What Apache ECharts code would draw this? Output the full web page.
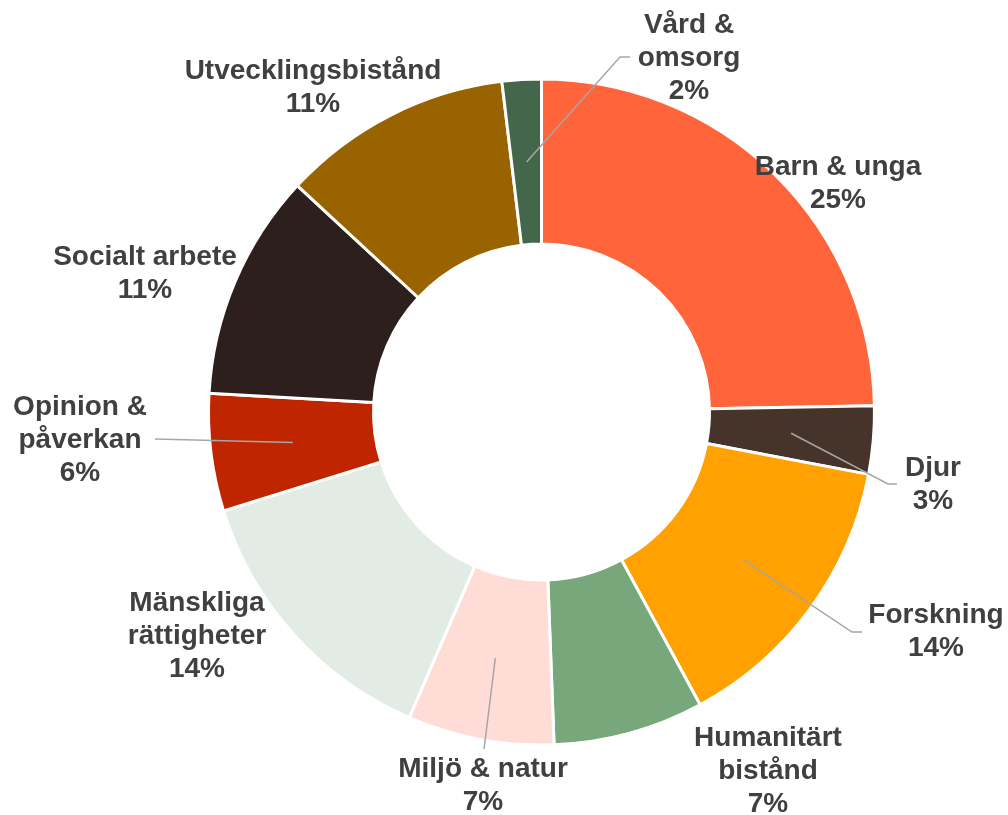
<!DOCTYPE html>
<html>
<head>
<meta charset="utf-8">
<script src="https://cdn.jsdelivr.net/npm/echarts@6/dist/echarts.min.js"></script>
<style>
  html, body { margin: 0; padding: 0; background: #fff; }
  #chart { width: 1008px; height: 815px; }
</style>
</head>
<body>
<div id="chart"></div>
<script>
// slices, clockwise from 12 o'clock
const categories = ['Barn & unga', 'Djur', 'Forskning', 'Humanitärt bistånd', 'Miljö & natur',
  'Mänskliga rättigheter', 'Opinion & påverkan', 'Socialt arbete', 'Utvecklingsbistånd', 'Vård & omsorg']
const shares = [24.7, 3.3, 14.1, 7.3, 7.1, 13.7, 5.7, 11.0, 11.2, 1.9]
const labelText = ['Barn & unga', 'Djur', 'Forskning', 'Humanitärt\nbistånd', 'Miljö & natur',
  'Mänskliga\nrättigheter', 'Opinion &\npåverkan', 'Socialt arbete', 'Utvecklingsbistånd', 'Vård &\nomsorg']
const colors = ['#FF643A', '#46342A', '#FFA100', '#78A77B', '#FFDDD6',
  '#E2ECE4', '#BF2600', '#2D201C', '#996300', '#44664A']

// layout: label block centres and leader line ends (null = no leader)
const cx = 541.5, cy = 412
const rInner = 168, rOuter = 333
const labelPos = [[838, 184], [933, 485], [936, 632], [768, 771], [483, 786],
  [197, 636], [80, 440], [145, 274], [313, 88], [689, 58]]
const leaderEnd = [null, [[888, 484], [897, 484]], [[852, 632], [862, 632]], null, [[484, 749], [484, 749]],
  null, [[155, 439], [155, 439]], null, null, [[620, 57], [630, 57]]]

const total = shares.reduce((a, b) => a + b, 0)
const midPoint = (i, r) => {
  let cum = 0
  for (let k = 0; k < i; k++) cum += shares[k]
  const deg = 90 - 360 * (cum + shares[i] / 2) / total
  const rad = deg * Math.PI / 180
  return [cx + r * Math.cos(rad), cy - r * Math.sin(rad)]
}

const pieData = categories.map((name, i) => ({ name: name, value: shares[i] }))

const myEcharts = echarts.init(document.getElementById('chart'))
myEcharts.setOption({
  animation: false,
  color: colors,
  series: [
    // ring
    {
      type: 'pie',
      z: 2,
      center: [cx, cy],
      radius: [rInner, rOuter],
      startAngle: 90,
      clockwise: true,
      silent: true,
      itemStyle: {
        borderColor: '#fff',
        borderWidth: 3
      },
      label: { show: false },
      labelLine: { show: false },
      data: pieData
    },
    // labels + leader lines on top of the ring
    {
      type: 'pie',
      z: 5,
      center: [cx, cy],
      radius: [rInner, rOuter],
      startAngle: 90,
      clockwise: true,
      silent: true,
      avoidLabelOverlap: false,
      itemStyle: {
        color: 'rgba(0,0,0,0)',
        borderWidth: 0
      },
      label: {
        show: true,
        position: 'outside',
        fontFamily: 'Liberation Sans, Arial, sans-serif',
        fontWeight: 'bold',
        fontSize: 28,
        lineHeight: 33,
        color: '#404040',
        align: 'center',
        formatter: (p) => labelText[p.dataIndex] + '\n' + Math.round(p.percent) + '%'
      },
      labelLine: {
        show: true,
        lineStyle: { color: '#A6A6A6', width: 1.5 }
      },
      labelLayout: (params) => {
        const i = params.dataIndex
        const res = {
          x: labelPos[i][0],
          y: labelPos[i][1],
          align: 'center',
          verticalAlign: 'middle'
        }
        if (leaderEnd[i]) {
          res.labelLinePoints = [midPoint(i, (rInner + rOuter) / 2), leaderEnd[i][0], leaderEnd[i][1]]
        }
        return res
      },
      data: pieData.map((d, i) => ({
        name: d.name,
        value: d.value,
        labelLine: { show: !!leaderEnd[i] }
      }))
    }
  ]
})
</script>
</body>
</html>
